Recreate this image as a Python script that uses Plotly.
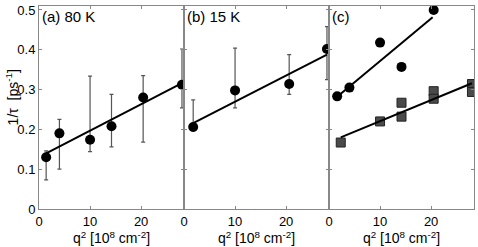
import plotly.graph_objects as go
from plotly.subplots import make_subplots

# Panel (a) 80 K
a_q2 = [1.4, 4.0, 10.0, 14.2, 20.4, 28.0]
a_rate = [0.130, 0.190, 0.174, 0.208, 0.280, 0.312]
a_err_up = [0.016, 0.035, 0.160, 0.080, 0.055, 0.090]
a_err_dn = [0.057, 0.090, 0.030, 0.052, 0.112, 0.058]
a_fit_q2 = [1.4, 28.0]
a_fit_rate = [0.140, 0.316]

# Panel (b) 15 K
b_q2 = [1.8, 10.0, 20.6, 28.0]
b_rate = [0.206, 0.298, 0.314, 0.402]
b_err_up = [0.068, 0.106, 0.074, 0.056]
b_err_dn = [0.010, 0.044, 0.026, 0.077]
b_fit_q2 = [1.8, 28.0]
b_fit_rate = [0.216, 0.388]

# Panel (c)
c1_q2 = [1.6, 4.0, 10.0, 14.2, 20.5]
c1_rate = [0.283, 0.305, 0.418, 0.357, 0.500]
c1_fit_q2 = [1.6, 20.3]
c1_fit_rate = [0.282, 0.482]
c2_q2 = [2.3, 10.0, 14.2, 14.2, 20.5, 20.5, 28.0, 28.0]
c2_rate = [0.167, 0.220, 0.267, 0.232, 0.296, 0.277, 0.314, 0.294]
c2_fit_q2 = [2.3, 28.0]
c2_fit_rate = [0.180, 0.316]

x_ticks = [0, 10, 20]
y_ticks = [0, 0.1, 0.2, 0.3, 0.4, 0.5]
y_tick_text = ["0", "0.1", "0.2", "0.3", "0.4", "0.5"]
panel_labels = ["(a) 80 K", "(b) 15 K", "(c)"]

fig = make_subplots(rows=1, cols=3, shared_yaxes=True, horizontal_spacing=0)

err_color = "#555555"
dot = dict(color="black", size=10, symbol="circle")

def add_err(q, r, up, dn, col):
    fig.add_trace(go.Scatter(
        x=q, y=r, mode="markers", marker=dot,
        error_y=dict(type="data", symmetric=False, array=up, arrayminus=dn,
                     color=err_color, thickness=1.2, width=2),
        showlegend=False), row=1, col=col)

def add_line(q, r, col):
    fig.add_trace(go.Scatter(x=q, y=r, mode="lines",
                             line=dict(color="black", width=2),
                             showlegend=False), row=1, col=col)

add_err(a_q2, a_rate, a_err_up, a_err_dn, 1)
add_line(a_fit_q2, a_fit_rate, 1)
add_err(b_q2, b_rate, b_err_up, b_err_dn, 2)
add_line(b_fit_q2, b_fit_rate, 2)
fig.add_trace(go.Scatter(x=c1_q2, y=c1_rate, mode="markers", marker=dot,
                         showlegend=False), row=1, col=3)
add_line(c1_fit_q2, c1_fit_rate, 3)
fig.add_trace(go.Scatter(x=c2_q2, y=c2_rate, mode="markers",
                         marker=dict(color="#4a4a4a", size=9, symbol="square",
                                     line=dict(color="#222222", width=1)),
                         showlegend=False), row=1, col=3)
add_line(c2_fit_q2, c2_fit_rate, 3)

font = dict(family="Liberation Sans, Arial, sans-serif", size=13, color="black")
title_font = dict(family="Liberation Sans, Arial, sans-serif", size=14, color="black")
axis_common = dict(showgrid=False, zeroline=False, showline=True, linecolor="#888888",
                   linewidth=1, mirror="ticks", ticks="inside", ticklen=3,
                   tickcolor="#888888", tickfont=font)

for i in range(1, 4):
    fig.update_xaxes(range=[0, 28.4], tickvals=x_ticks, row=1, col=i,
                     title=dict(text="q<sup>2</sup> [10<sup>8</sup> cm<sup>-2</sup>]",
                                font=title_font, standoff=0),
                     **axis_common)
    fig.update_yaxes(range=[0, 0.51], tickvals=y_ticks, ticktext=y_tick_text,
                     row=1, col=i, **axis_common)
    fig.add_annotation(text=panel_labels[i - 1], xref="x domain" if i == 1 else f"x{i} domain",
                       yref="y domain" if i == 1 else f"y{i} domain",
                       x=0.01, y=1.0, xanchor="left", yanchor="top",
                       showarrow=False, font=dict(family=font["family"], size=15, color="black"))

fig.add_annotation(text="1/τ  [ps<sup>-1</sup>]", xref="paper", yref="paper",
                   x=-0.062, y=0.55, xanchor="center", yanchor="middle", textangle=-90,
                   showarrow=False, font=title_font)

fig.update_layout(width=478, height=247, margin=dict(l=39, r=3, t=4, b=38),
                  plot_bgcolor="white", paper_bgcolor="white", font=font)

fig.write_html("out.html", config={"displayModeBar": False},
               post_script="document.body.style.margin='0';")
